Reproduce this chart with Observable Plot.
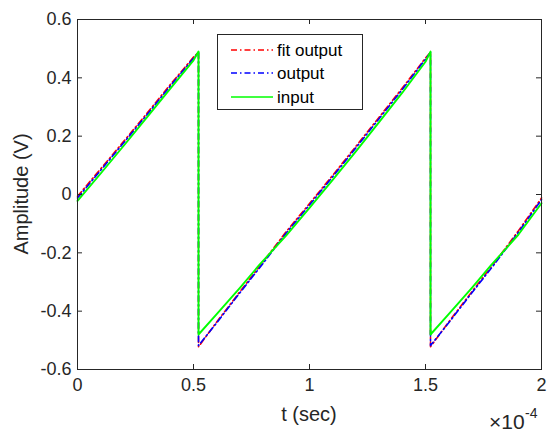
<!DOCTYPE html>
<html>
<head>
<meta charset="utf-8">
<script src="https://cdn.jsdelivr.net/npm/d3@7"></script>
<script src="https://cdn.jsdelivr.net/npm/@observablehq/plot@0.6"></script>
<style>
  body { margin: 0; background: #fff; }
</style>
</head>
<body>
<div id="chart"></div>
<script>
// time in units of 1e-4 s
const xTicks = [0, 0.5, 1, 1.5, 2];
const yTicks = [-0.6, -0.4, -0.2, 0, 0.2, 0.4, 0.6];

const tOut = [0, 0.1, 0.2, 0.3, 0.4, 0.5, 0.5216, 0.5216, 0.6, 0.7, 0.8, 0.9, 1.0, 1.1, 1.2, 1.3, 1.4, 1.5, 1.5216, 1.5216, 1.6, 1.7, 1.8, 1.9, 2.0];
const outputV = [-0.012, 0.083, 0.178, 0.274, 0.372, 0.467, 0.487, -0.518, -0.44, -0.337, -0.236, -0.132, -0.036, 0.061, 0.160, 0.260, 0.360, 0.464, 0.487, -0.518, -0.44, -0.337, -0.236, -0.130, -0.018];
const fitV = [-0.006, 0.088, 0.183, 0.279, 0.377, 0.471, 0.488, -0.522, -0.437, -0.333, -0.231, -0.127, -0.031, 0.066, 0.165, 0.265, 0.365, 0.468, 0.488, -0.522, -0.437, -0.333, -0.231, -0.125, -0.012];

const tIn = [0, 0.1, 0.2, 0.3, 0.4, 0.5, 0.5216, 0.5216, 0.6, 0.7, 0.78, 0.9, 1.0, 1.1, 1.2, 1.3, 1.4, 1.5, 1.5216, 1.5216, 1.6, 1.7, 1.78, 1.9, 2.0];
const inputV = [-0.022, 0.072, 0.168, 0.265, 0.363, 0.46, 0.49, -0.48, -0.41, -0.32, -0.245, -0.14, -0.046, 0.05, 0.148, 0.248, 0.349, 0.455, 0.49, -0.48, -0.41, -0.32, -0.245, -0.138, -0.03];

const legendNames = ["fit output", "output", "input"];
const colors = ["#ff0000", "#0000ff", "#00ff00"];

const fitData = tOut.map((t, i) => ({t, v: fitV[i]}));
const outData = tOut.map((t, i) => ({t, v: outputV[i]}));
const inData = tIn.map((t, i) => ({t, v: inputV[i]}));

const W = 550, H = 438, mL = 77, mR = 9, mT = 19, mB = 69;
const pw = W - mL - mR, ph = H - mT - mB;
const ink = "#262626";
const font = "'Liberation Sans', Arial, Helvetica, sans-serif";
const dashDot = "6,3,1.5,3";

const plot = Plot.plot({
  width: W, height: H,
  marginLeft: mL, marginRight: mR, marginTop: mT, marginBottom: mB,
  style: {fontFamily: font, background: "white", color: ink},
  x: {domain: [0, 2]},
  y: {domain: [-0.6, 0.6]},
  marks: [
    Plot.axisX(xTicks, {tickSize: 0, tickPadding: 9, fontSize: 18, label: null, tickFormat: d => String(d), fill: ink}),
    Plot.axisY(yTicks, {tickSize: 0, tickPadding: 6, fontSize: 18, label: null, tickFormat: d => String(+d.toFixed(1)), fill: ink}),
    Plot.line(fitData, {x: "t", y: "v", stroke: colors[0], strokeWidth: 1.6, strokeDasharray: dashDot}),
    Plot.line(outData, {x: "t", y: "v", stroke: colors[1], strokeWidth: 1.6, strokeDasharray: dashDot}),
    Plot.line(inData, {x: "t", y: "v", stroke: colors[2], strokeWidth: 1.9}),
    Plot.ruleX(xTicks, {x: d => d, insetTop: ph - 5, stroke: ink}),
    Plot.ruleX(xTicks, {x: d => d, insetBottom: ph - 5, stroke: ink}),
    Plot.ruleY(yTicks, {y: d => d, insetRight: pw - 5, stroke: ink}),
    Plot.ruleY(yTicks, {y: d => d, insetLeft: pw - 5, stroke: ink}),
    Plot.frame({stroke: ink, strokeWidth: 1})
  ]
});

document.getElementById("chart").appendChild(plot);

const svg = d3.select(plot);

// axis labels
svg.append("text")
  .attr("x", mL + pw / 2).attr("y", 421)
  .attr("text-anchor", "middle")
  .attr("font-family", font).attr("font-size", 20).attr("fill", ink)
  .text("t (sec)");

svg.append("text")
  .attr("transform", `translate(28,${mT + ph / 2}) rotate(-90)`)
  .attr("text-anchor", "middle")
  .attr("font-family", font).attr("font-size", 20).attr("fill", ink)
  .text("Amplitude (V)");

svg.append("text")
  .attr("x", 489).attr("y", 429)
  .attr("text-anchor", "start")
  .attr("font-family", font).attr("font-size", 21).attr("fill", ink)
  .text("×10");
svg.append("text")
  .attr("x", 525).attr("y", 418)
  .attr("text-anchor", "start")
  .attr("font-family", font).attr("font-size", 14).attr("fill", ink)
  .text("-4");

// legend
const lg = svg.append("g");
lg.append("rect")
  .attr("x", 217.5).attr("y", 34.5).attr("width", 145).attr("height", 75)
  .attr("fill", "white").attr("stroke", ink).attr("stroke-width", 1);
const rowsY = [50, 73, 97];
legendNames.forEach((name, i) => {
  lg.append("line")
    .attr("x1", 231).attr("x2", 273).attr("y1", rowsY[i]).attr("y2", rowsY[i])
    .attr("stroke", colors[i]).attr("stroke-width", 1.6)
    .attr("stroke-dasharray", i < 2 ? dashDot : null);
  lg.append("text")
    .attr("x", 277).attr("y", rowsY[i])
    .attr("dy", "0.35em")
    .attr("text-anchor", "start")
    .attr("font-family", font).attr("font-size", 17).attr("fill", "#000")
    .text(name);
});
</script>
</body>
</html>
